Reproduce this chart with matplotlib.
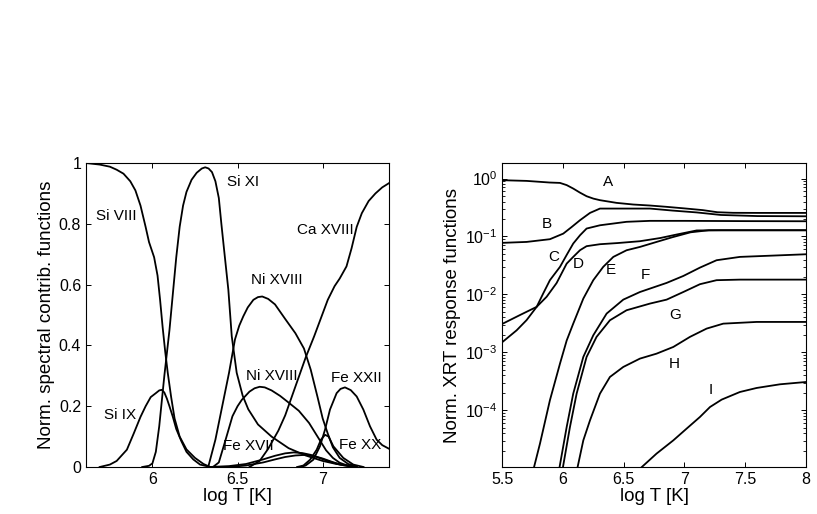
import matplotlib
matplotlib.use("Agg")
import matplotlib.pyplot as plt
from matplotlib.ticker import LogLocator, NullFormatter

plt.rcParams['font.family'] = ['Liberation Sans', 'DejaVu Sans']
plt.rcParams['mathtext.fontset'] = 'custom'
plt.rcParams['mathtext.rm'] = 'Liberation Sans'

# ---- left panel: normalised contribution functions vs log T ----
si8_x = [5.61, 5.69, 5.75, 5.79, 5.83, 5.87, 5.90, 5.93, 5.96, 5.98, 6.01, 6.03,
         6.045, 6.06, 6.075, 6.09, 6.11, 6.13, 6.16, 6.20, 6.25, 6.30, 6.34]
si8_y = [1.0, 0.995, 0.988, 0.978, 0.965, 0.94, 0.91, 0.86, 0.79, 0.74, 0.69, 0.63,
         0.55, 0.46, 0.38, 0.31, 0.23, 0.16, 0.10, 0.058, 0.03, 0.01, 0.0]

si9_x = [5.69, 5.75, 5.79, 5.85, 5.89, 5.93, 5.96, 5.99, 6.02, 6.04, 6.055, 6.07,
         6.085, 6.10, 6.12, 6.14, 6.17, 6.20, 6.24, 6.28, 6.34]
si9_y = [0.0, 0.008, 0.02, 0.057, 0.11, 0.165, 0.20, 0.23, 0.243, 0.252, 0.254, 0.245,
         0.225, 0.20, 0.165, 0.125, 0.085, 0.05, 0.025, 0.008, 0.0]

si11_x = [5.94, 5.98, 6.00, 6.02, 6.04, 6.07, 6.10, 6.12, 6.14, 6.16, 6.18, 6.20,
          6.23, 6.26, 6.29, 6.31, 6.33, 6.35, 6.37, 6.39, 6.405, 6.42, 6.446, 6.466,
          6.495, 6.53, 6.563, 6.62, 6.70, 6.80, 6.90, 7.00, 7.08, 7.18]
si11_y = [0.0, 0.004, 0.012, 0.05, 0.134, 0.30, 0.45, 0.57, 0.69, 0.79, 0.86, 0.905,
          0.945, 0.968, 0.982, 0.986, 0.982, 0.97, 0.94, 0.885, 0.80, 0.72, 0.583, 0.43,
          0.31, 0.235, 0.19, 0.14, 0.10, 0.062, 0.038, 0.02, 0.01, 0.003]

ni18a_x = [6.33, 6.37, 6.41, 6.45, 6.485, 6.51, 6.534, 6.56, 6.593, 6.62, 6.645,
           6.68, 6.72, 6.78, 6.84, 6.89, 6.93, 6.97, 7.00, 7.03, 7.06, 7.10, 7.15, 7.20]
ni18a_y = [0.005, 0.09, 0.20, 0.31, 0.42, 0.465, 0.496, 0.525, 0.55, 0.559, 0.561,
           0.553, 0.535, 0.487, 0.44, 0.39, 0.32, 0.23, 0.16, 0.11, 0.065, 0.03, 0.01,
           0.002]

ni18b_x = [6.36, 6.39, 6.43, 6.47, 6.50, 6.525, 6.57, 6.60, 6.63, 6.66, 6.70, 6.75,
           6.80, 6.86, 6.92, 6.97, 7.02, 7.06, 7.10, 7.15, 7.20]
ni18b_y = [0.002, 0.015, 0.09, 0.167, 0.20, 0.221, 0.248, 0.259, 0.264, 0.262, 0.252,
           0.234, 0.212, 0.185, 0.145, 0.10, 0.055, 0.03, 0.014, 0.004, 0.0]

ca18_x = [6.57, 6.63, 6.68, 6.74, 6.78, 6.84, 6.90, 6.95, 6.99, 7.03, 7.07, 7.10,
          7.14, 7.17, 7.20, 7.23, 7.27, 7.31, 7.35, 7.39]
ca18_y = [0.0, 0.02, 0.06, 0.12, 0.17, 0.265, 0.36, 0.43, 0.49, 0.55, 0.595, 0.62,
          0.66, 0.72, 0.79, 0.835, 0.875, 0.90, 0.92, 0.934]

fe22_x = [6.87, 6.90, 6.945, 6.984, 7.014, 7.043, 7.082, 7.105, 7.131, 7.165, 7.20,
          7.239, 7.278, 7.317, 7.35, 7.39]
fe22_y = [0.0, 0.005, 0.024, 0.068, 0.123, 0.189, 0.243, 0.257, 0.262, 0.253, 0.232,
          0.189, 0.134, 0.09, 0.072, 0.06]

fe20_x = [6.85, 6.887, 6.926, 6.965, 6.99, 7.014, 7.035, 7.063, 7.121, 7.18, 7.24]
fe20_y = [0.0, 0.005, 0.024, 0.057, 0.09, 0.106, 0.1, 0.068, 0.03, 0.008, 0.0]

fe17_x = [6.33, 6.45, 6.55, 6.65, 6.72, 6.78, 6.83, 6.88, 6.93, 6.98, 7.04, 7.10, 7.18]
fe17_y = [0.0, 0.003, 0.01, 0.025, 0.037, 0.045, 0.048, 0.046, 0.04, 0.03, 0.018,
          0.008, 0.001]

fe17b_x = [6.45, 6.55, 6.65, 6.72, 6.78, 6.84, 6.90, 6.95, 7.00, 7.06, 7.12, 7.20]
fe17b_y = [0.0, 0.005, 0.015, 0.025, 0.033, 0.038, 0.04, 0.036, 0.028, 0.016, 0.006, 0.0]

left_curves = [(si8_x, si8_y), (si9_x, si9_y), (si11_x, si11_y), (ni18a_x, ni18a_y),
               (ni18b_x, ni18b_y), (ca18_x, ca18_y), (fe22_x, fe22_y), (fe20_x, fe20_y),
               (fe17_x, fe17_y), (fe17b_x, fe17b_y)]

left_labels = ["Si VIII", "Si IX", "Si XI", "Ni XVIII", "Ni XVIII", "Ca XVIII",
               "Fe XXII", "Fe XX", "Fe XVII"]
left_label_pos = [(5.79, 0.825), (5.81, 0.172), (6.534, 0.937), (6.73, 0.616),
                  (6.70, 0.298), (7.014, 0.781), (7.20, 0.293), (7.219, 0.073),
                  (6.563, 0.068)]

# ---- right panel: normalised XRT response functions (log) ----
a_x = [5.5, 5.70, 5.89, 5.975, 6.03, 6.084, 6.14, 6.194, 6.25, 6.304, 6.441, 6.578,
       6.716, 6.85, 7.0, 7.15, 7.27, 7.40, 7.6, 8.0]
a_y = [0.935, 0.91, 0.853, 0.84, 0.77, 0.671, 0.57, 0.495, 0.45, 0.423, 0.380, 0.356,
       0.342, 0.325, 0.305, 0.285, 0.262, 0.256, 0.255, 0.255]

b_x = [5.5, 5.70, 5.892, 6.002, 6.07, 6.14, 6.222, 6.304, 6.45, 6.716, 6.9, 7.1, 7.3,
       7.6, 8.0]
b_y = [0.0776, 0.0805, 0.0897, 0.112, 0.145, 0.191, 0.255, 0.303, 0.303, 0.303, 0.28,
       0.26, 0.235, 0.225, 0.223]

c_x = [5.5, 5.618, 5.70, 5.783, 5.837, 5.892, 5.975, 6.03, 6.084, 6.14, 6.194,
       6.304, 6.523, 6.716, 7.0, 7.5, 8.0]
c_y = [0.0015, 0.0024, 0.0036, 0.0061, 0.0104, 0.0176, 0.0299, 0.048, 0.0755,
       0.105, 0.137, 0.156, 0.179, 0.186, 0.186, 0.184, 0.183]

d_x = [5.5, 5.645, 5.783, 5.865, 5.947, 6.03, 6.084, 6.14, 6.194, 6.304, 6.45,
       6.633, 6.8, 6.935, 7.1, 7.3, 8.0]
d_y = [0.0031, 0.0044, 0.0061, 0.0091, 0.0157, 0.034, 0.0444, 0.058, 0.068, 0.0735,
       0.077, 0.0828, 0.094, 0.108, 0.127, 0.128, 0.128]

e_x = [5.76, 5.81, 5.892, 5.975, 6.03, 6.084, 6.167, 6.249, 6.331, 6.414, 6.523,
       6.633, 6.77, 6.9, 7.05, 7.2, 8.0]
e_y = [1.02e-5, 2.65e-5, 1.49e-4, 6.4e-4, 1.6e-3, 3.13e-3, 8.47e-3, 0.0176, 0.0299,
       0.0444, 0.0578, 0.066, 0.0805, 0.097, 0.118, 0.128, 0.128]

f_x = [5.969, 6.03, 6.084, 6.167, 6.249, 6.359, 6.496, 6.633, 6.853, 6.99, 7.127,
       7.264, 7.456, 7.731, 8.0]
f_y = [9.8e-6, 5.15e-5, 1.94e-4, 8.34e-4, 1.97e-3, 4.67e-3, 8.13e-3, 0.011, 0.0158,
       0.0208, 0.029, 0.0389, 0.0444, 0.0468, 0.0493]

g_x = [5.997, 6.057, 6.112, 6.194, 6.276, 6.386, 6.523, 6.716, 6.853, 6.99, 7.127,
       7.264, 7.456, 8.0]
g_y = [9.8e-6, 5.15e-5, 1.94e-4, 8.34e-4, 1.85e-3, 3.58e-3, 5.33e-3, 6.95e-3,
       8.13e-3, 0.011, 0.015, 0.0176, 0.018, 0.018]

h_x = [6.117, 6.167, 6.222, 6.304, 6.386, 6.496, 6.633, 6.77, 6.908, 7.045, 7.182,
       7.319, 7.594, 8.0]
h_y = [9.8e-6, 3.03e-5, 6.71e-5, 1.94e-4, 3.76e-4, 5.6e-4, 7.8e-4, 9.5e-4, 1.24e-3,
       1.85e-3, 2.57e-3, 3.13e-3, 3.35e-3, 3.35e-3]

i_x = [6.633, 6.77, 6.908, 7.017, 7.127, 7.21, 7.306, 7.456, 7.594, 7.786, 8.0]
i_y = [9.8e-6, 1.79e-5, 3.03e-5, 4.82e-5, 7.67e-5, 1.14e-4, 1.53e-4, 2.07e-4,
       2.43e-4, 2.81e-4, 3.08e-4]

right_curves = [(a_x, a_y), (b_x, b_y), (c_x, c_y), (d_x, d_y), (e_x, e_y),
                (f_x, f_y), (g_x, g_y), (h_x, h_y), (i_x, i_y)]
right_labels = ["A", "B", "C", "D", "E", "F", "G", "H", "I"]
right_label_pos = [(6.367, 0.875), (5.865, 0.167), (5.92, 0.0443), (6.126, 0.034),
                   (6.395, 0.0261), (6.675, 0.0214), (6.921, 4.37e-3),
                   (6.916, 6.4e-4), (7.215, 2.21e-4)]

fig = plt.figure(figsize=(8.17, 5.14), dpi=100)
ax1 = fig.add_axes([0.1053, 0.0914, 0.3709, 0.5914])
ax2 = fig.add_axes([0.6148, 0.0914, 0.3717, 0.5914])

for x, y in left_curves:
    ax1.plot(x, y, color='black', lw=1.3)
for txt, (tx, ty) in zip(left_labels, left_label_pos):
    ax1.text(tx, ty, txt, fontsize=11, ha='center', va='center')
ax1.set_xlim(5.61, 7.39)
ax1.set_ylim(0, 1)
ax1.set_xticks([6, 6.5, 7])
ax1.set_xticklabels(["6", "6.5", "7"])
ax1.set_yticks([0, 0.2, 0.4, 0.6, 0.8, 1])
ax1.set_yticklabels(["0", "0.2", "0.4", "0.6", "0.8", "1"])
ax1.set_xlabel("log T [K]", fontsize=13.5, labelpad=1)
ax1.set_ylabel("Norm. spectral contrib. functions", fontsize=13.5, labelpad=3)

for x, y in right_curves:
    ax2.plot(x, y, color='black', lw=1.3)
for txt, (tx, ty) in zip(right_labels, right_label_pos):
    ax2.text(tx, ty, txt, fontsize=11, ha='center', va='center')
ax2.set_yscale('log')
ax2.set_xlim(5.5, 8)
ax2.set_ylim(1.05e-5, 1.85)
ax2.set_xticks([5.5, 6, 6.5, 7, 7.5, 8])
ax2.set_xticklabels(["5.5", "6", "6.5", "7", "7.5", "8"])
ax2.yaxis.set_major_locator(LogLocator(base=10, numticks=10))
ax2.yaxis.set_minor_locator(LogLocator(base=10, subs=range(2, 10), numticks=20))
ax2.yaxis.set_minor_formatter(NullFormatter())
ax2.set_xlabel("log T [K]", fontsize=13.5, labelpad=1)
ax2.set_ylabel("Norm. XRT response functions", fontsize=13.5, labelpad=3)

for ax in (ax1, ax2):
    ax.tick_params(which='both', direction='in', top=True, right=True, labelsize=11.5)
    ax.tick_params(which='major', length=3.5, width=0.7)
    ax.tick_params(which='minor', length=2, width=0.6)
    for s in ax.spines.values():
        s.set_linewidth(0.8)

fig.savefig("out.png", dpi=100)
